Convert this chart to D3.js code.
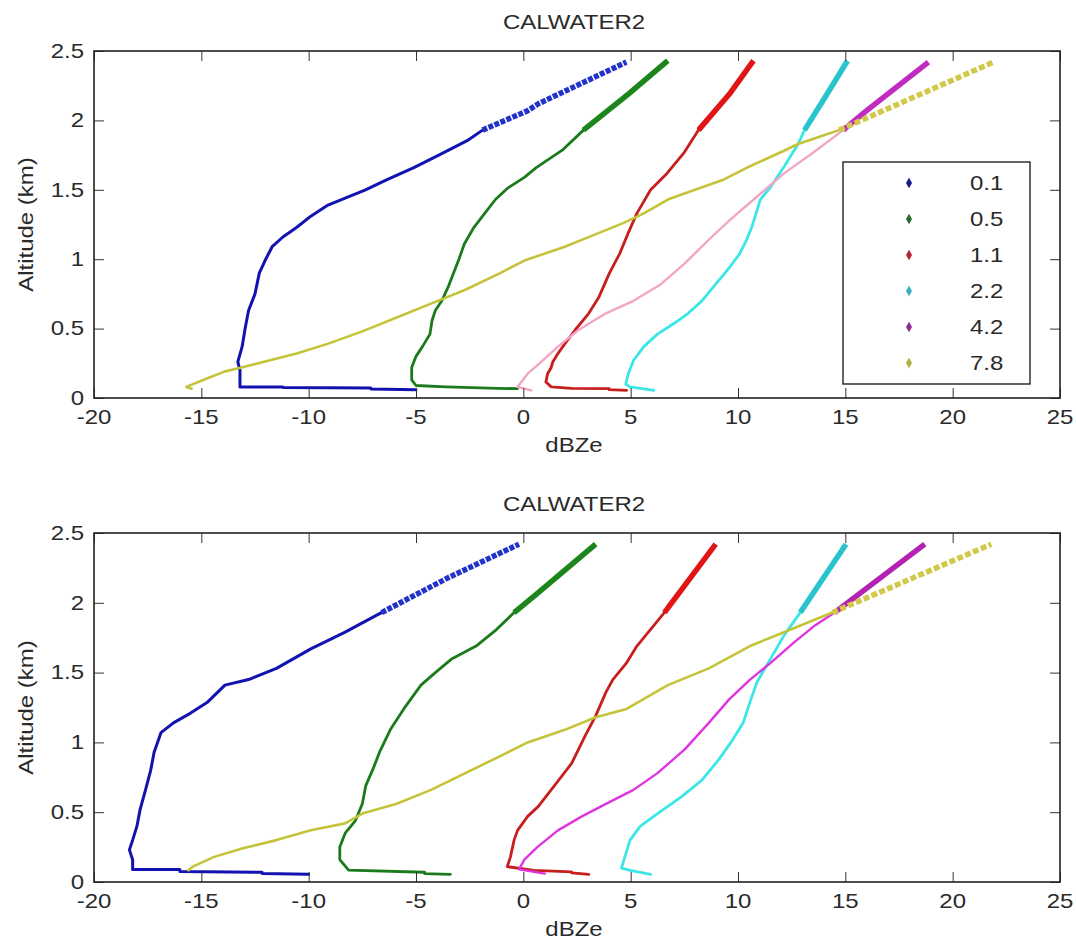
<!DOCTYPE html>
<html><head><meta charset="utf-8">
<script src="https://cdn.jsdelivr.net/npm/d3@7"></script>
<style>body{margin:0;background:#fff}svg{display:block}</style>
</head><body><svg id="c" width="1076" height="951"></svg>
<script>
// ---------------- data ----------------
const seriesNames = ["0.1", "0.5", "1.1", "2.2", "4.2", "7.8"];
const xTicks = [-20, -15, -10, -5, 0, 5, 10, 15, 20, 25];
const yTicks = [0, 0.5, 1, 1.5, 2, 2.5];
const xTickLabels = ["-20", "-15", "-10", "-5", "0", "5", "10", "15", "20", "25"];
const yTickLabels = ["0", "0.5", "1", "1.5", "2", "2.5"];
const titleText = "CALWATER2";
const xLabelText = "dBZe";
const yLabelText = "Altitude (km)";
const upperStartKm = 1.93; // altitude where the dense-marker segment begins

// top panel: [dBZe, altitude km]
const top01 = [[-5.0,0.06],[-7.1,0.065],[-7.1,0.072],[-11.2,0.075],[-11.2,0.08],[-13.2,0.08],[-13.2,0.2],[-13.3,0.26],[-13.1,0.37],[-12.95,0.51],[-12.8,0.63],[-12.5,0.75],[-12.3,0.9],[-12.0,1.0],[-11.7,1.09],[-11.2,1.16],[-10.55,1.23],[-9.9,1.31],[-9.1,1.39],[-8.3,1.44],[-7.35,1.5],[-6.4,1.57],[-5.1,1.66],[-3.8,1.76],[-2.55,1.86],[-1.9,1.93],[0.2,2.07],[0.7,2.12],[4.8,2.42]];
const top05 = [[-0.27,0.067],[-1.2,0.07],[-3.6,0.08],[-5.0,0.09],[-5.2,0.13],[-5.2,0.22],[-5.0,0.3],[-4.7,0.37],[-4.35,0.46],[-4.25,0.56],[-4.1,0.63],[-3.8,0.7],[-3.5,0.8],[-3.25,0.9],[-3.0,1.0],[-2.75,1.11],[-2.3,1.23],[-1.8,1.33],[-1.3,1.43],[-0.75,1.51],[0.05,1.59],[0.6,1.66],[1.85,1.79],[2.8,1.93],[4.89,2.19],[6.73,2.43]];
const top11 = [[4.81,0.055],[4.0,0.06],[4.0,0.067],[2.25,0.07],[1.3,0.08],[1.05,0.115],[1.13,0.175],[1.3,0.22],[1.37,0.26],[1.61,0.32],[1.93,0.39],[2.41,0.49],[3.05,0.61],[3.53,0.73],[4.01,0.9],[4.49,1.04],[4.89,1.19],[5.29,1.33],[5.93,1.5],[6.7,1.62],[7.5,1.77],[8.16,1.93],[9.6,2.19],[10.72,2.43]];
const top22 = [[6.08,0.055],[4.97,0.08],[4.77,0.1],[4.89,0.175],[5.13,0.27],[5.61,0.37],[6.25,0.46],[7.05,0.54],[7.68,0.61],[8.32,0.7],[8.96,0.82],[9.6,0.94],[10.08,1.04],[10.4,1.14],[10.64,1.23],[10.8,1.31],[11.04,1.43],[11.52,1.52],[12.16,1.67],[12.8,1.83],[13.1,1.93],[14.15,2.19],[15.1,2.43]];
const top42 = [[0.37,0.055],[-0.27,0.08],[0.2,0.175],[0.65,0.235],[1.61,0.37],[2.57,0.49],[3.85,0.61],[5.13,0.7],[6.41,0.82],[7.52,0.97],[8.64,1.14],[9.6,1.28],[10.88,1.45],[12.16,1.62],[13.43,1.76],[14.9,1.93],[15.99,2.07],[18.87,2.42]];
const top78 = [[-15.45,0.067],[-15.7,0.08],[-14.74,0.14],[-13.93,0.19],[-13.13,0.22],[-11.85,0.27],[-10.56,0.32],[-9.12,0.39],[-7.5,0.48],[-5.9,0.58],[-4.3,0.68],[-2.7,0.78],[-1.08,0.9],[0.05,0.99],[1.93,1.09],[3.21,1.17],[4.65,1.26],[5.61,1.33],[6.73,1.43],[8.0,1.5],[9.28,1.57],[10.56,1.67],[11.84,1.76],[12.8,1.83],[13.76,1.88],[14.71,1.93],[18.23,2.17],[21.9,2.42]];

// bottom panel
const bot01 = [[-10,0.055],[-12.17,0.06],[-12.17,0.07],[-16,0.075],[-16,0.09],[-18.2,0.09],[-18.2,0.16],[-18.35,0.23],[-18.2,0.3],[-18.0,0.4],[-17.85,0.52],[-17.6,0.66],[-17.36,0.8],[-17.2,0.93],[-16.88,1.07],[-16.3,1.14],[-15.5,1.21],[-14.7,1.29],[-13.9,1.41],[-12.8,1.45],[-11.5,1.53],[-9.9,1.67],[-8.3,1.79],[-6.85,1.91],[-6.6,1.93],[-3.5,2.18],[-0.2,2.42]];
const bot05 = [[-3.4,0.055],[-4.6,0.06],[-4.6,0.07],[-8.14,0.085],[-8.55,0.16],[-8.55,0.25],[-8.3,0.35],[-7.82,0.44],[-7.5,0.56],[-7.34,0.69],[-7.0,0.81],[-6.7,0.93],[-6.2,1.09],[-5.57,1.24],[-4.77,1.41],[-4.1,1.5],[-3.32,1.6],[-2.2,1.69],[-1.24,1.81],[-0.43,1.93],[0.6,2.06],[3.37,2.42]];
const bot11 = [[3.05,0.055],[2.25,0.065],[2.25,0.072],[0.5,0.084],[-0.75,0.11],[-0.6,0.18],[-0.43,0.3],[-0.27,0.37],[0.2,0.47],[0.69,0.54],[1.45,0.69],[2.25,0.85],[2.89,1.05],[3.37,1.19],[3.85,1.36],[4.17,1.45],[4.81,1.57],[5.29,1.69],[5.93,1.81],[6.57,1.93],[8.96,2.42]];
const bot22 = [[5.93,0.055],[4.97,0.084],[4.57,0.1],[4.73,0.18],[4.97,0.3],[5.45,0.4],[6.25,0.49],[7.36,0.61],[8.32,0.73],[9.12,0.88],[9.76,1.02],[10.24,1.14],[10.56,1.29],[10.88,1.43],[11.52,1.6],[12.16,1.77],[12.9,1.93],[15.03,2.42]];
const bot42 = [[1.0,0.06],[-0.2,0.09],[0.05,0.16],[0.65,0.25],[1.61,0.37],[2.73,0.47],[3.85,0.56],[5.13,0.66],[6.25,0.78],[7.52,0.95],[8.64,1.14],[9.6,1.31],[10.56,1.45],[11.52,1.57],[12.64,1.72],[13.6,1.84],[14.5,1.93],[18.7,2.42]];
const bot78 = [[-15.6,0.084],[-15.4,0.11],[-14.4,0.18],[-13.1,0.24],[-11.5,0.3],[-9.9,0.37],[-8.3,0.42],[-7.5,0.49],[-5.9,0.56],[-4.3,0.66],[-2.7,0.78],[-1.1,0.9],[0.2,1.0],[1.93,1.09],[3.37,1.18],[4.81,1.24],[6.73,1.41],[8.64,1.53],[10.56,1.69],[12.48,1.81],[14.4,1.93],[21.8,2.42]];

// ---------------- styles ----------------
const lowerColorsTop = ["#1212b0","#1b7a1b","#c81e1e","#3ce6e6","#f2a6c6","#c4c43a"];
const lowerColorsBot = ["#1212b0","#1b7a1b","#c81e1e","#3ce6e6","#e034e0","#c4c43a"];
const upperColorsTop = ["#2233cc","#1c861c","#e01616","#28c4cc","#c02cc0","#d2c84a"];
const upperColorsBot = ["#2233cc","#1c861c","#e01616","#28c4cc","#b422b4","#d2c84a"];
const upperDash = ["5,1.5", null, null, null, null, "6,2.5"];
const lowerWidth = [3, 2.8, 2.8, 2.8, 2.4, 2.6];
const legendColors = ["#1a1a8c","#2e6b2e","#b02838","#3ab0c0","#8b3090","#b0b040"];

const FONT = "'Liberation Sans', Arial, sans-serif";
const FS = 20, SX = 1.2;
const svg = d3.select("#c");

function stretchedText(g, txt, x, y, anchor, rot) {
  return g.append("text")
    .attr("transform", `translate(${x},${y})` + (rot ? ` rotate(${rot})` : "") + ` scale(${SX},1)`)
    .attr("text-anchor", anchor).attr("dominant-baseline", "central")
    .attr("font-family", FONT).attr("font-size", FS).attr("fill", "#2a2a2a")
    .text(txt);
}

function panel(box, data, lowerColors, upperColors, withLegend) {
  const x = d3.scaleLinear().domain([-20, 25]).range([box.l, box.r]);
  const y = d3.scaleLinear().domain([0, 2.5]).range([box.b, box.t]);
  const g = svg.append("g");

  const line = d3.line().x(d => x(d[0])).y(d => y(d[1]));
  const clipId = "clip" + box.t;
  g.append("clipPath").attr("id", clipId).append("rect")
    .attr("x", box.l).attr("y", box.t - 6).attr("width", box.r - box.l).attr("height", box.b - box.t + 6);
  const lg = g.append("g").attr("clip-path", `url(#${clipId})`);
  data.forEach((s, i) => {
    const lower = s.filter(d => d[1] <= upperStartKm);
    const upper = s.filter(d => d[1] >= upperStartKm);
    lg.append("path").attr("d", line(lower)).attr("fill", "none")
      .attr("stroke", lowerColors[i]).attr("stroke-width", lowerWidth[i])
      .attr("stroke-linejoin", "round").attr("stroke-linecap", "round");
    const up = lg.append("path").attr("d", line(upper)).attr("fill", "none")
      .attr("stroke", upperColors[i]).attr("stroke-width", 5.5)
      .attr("stroke-linejoin", "round");
    if (upperDash[i]) up.attr("stroke-dasharray", upperDash[i]);
  });

  const tk = 10;
  g.append("g").attr("transform", `translate(0,${box.b})`)
    .call(d3.axisBottom(x).tickValues(xTicks).tickSizeInner(-tk).tickSizeOuter(0).tickFormat(""))
    .call(a => a.select(".domain").remove());
  g.append("g").attr("transform", `translate(0,${box.t})`)
    .call(d3.axisTop(x).tickValues(xTicks).tickSizeInner(-tk).tickSizeOuter(0).tickFormat(""))
    .call(a => a.select(".domain").remove());
  g.append("g").attr("transform", `translate(${box.l},0)`)
    .call(d3.axisLeft(y).tickValues(yTicks).tickSizeInner(-tk).tickSizeOuter(0).tickFormat(""))
    .call(a => a.select(".domain").remove());
  g.append("g").attr("transform", `translate(${box.r},0)`)
    .call(d3.axisRight(y).tickValues(yTicks).tickSizeInner(-tk).tickSizeOuter(0).tickFormat(""))
    .call(a => a.select(".domain").remove());
  g.selectAll(".tick line").attr("stroke", "#333").attr("stroke-width", 1);

  g.append("rect").attr("x", box.l).attr("y", box.t)
    .attr("width", box.r - box.l).attr("height", box.b - box.t)
    .attr("fill", "none").attr("stroke", "#222").attr("stroke-width", 1.6);

  xTicks.forEach((v, i) => stretchedText(g, xTickLabels[i], x(v), box.b + 19, "middle"));
  yTicks.forEach((v, i) => stretchedText(g, yTickLabels[i], box.l - 10, y(v), "end"));

  stretchedText(g, titleText, (box.l + box.r) / 2 - 3, box.t - 29, "middle");
  stretchedText(g, xLabelText, (box.l + box.r) / 2 - 3, box.b + 47, "middle");
  stretchedText(g, yLabelText, 26, (box.t + box.b) / 2, "middle", -90);

  if (withLegend) {
    const L = {l: 843, t: 162, r: 1030, b: 384};
    g.append("rect").attr("x", L.l).attr("y", L.t).attr("width", L.r - L.l).attr("height", L.b - L.t)
      .attr("fill", "#fff").attr("stroke", "#222").attr("stroke-width", 1.4);
    const step = (L.b - L.t - 42) / (seriesNames.length - 1);
    seriesNames.forEach((n, i) => {
      const cy = L.t + 21 + i * step;
      g.append("path").attr("d", d3.symbol(d3.symbolDiamond, 32)())
        .attr("transform", `translate(${L.l + 66},${cy})`).attr("fill", legendColors[i]);
      stretchedText(g, n, L.l + 127, cy, "start");
    });
  }
}

panel({l: 94, r: 1060, t: 51, b: 398}, [top01, top05, top11, top22, top42, top78], lowerColorsTop, upperColorsTop, true);
panel({l: 94, r: 1060, t: 533, b: 882}, [bot01, bot05, bot11, bot22, bot42, bot78], lowerColorsBot, upperColorsBot, false);
</script></body></html>
